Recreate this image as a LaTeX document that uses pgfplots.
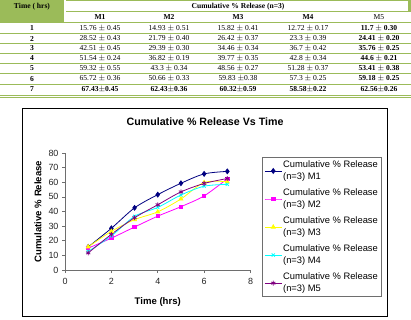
\documentclass[border=0pt]{standalone}
\usepackage{pgfplots}
\pgfplotsset{compat=1.18}
\usepackage{pgfplotstable}
\usepackage{fontspec}
\setmainfont{Liberation Sans}
\newfontfamily\tabfont{Liberation Serif}

\definecolor{tgreen}{RGB}{155,187,89}
\definecolor{axgray}{RGB}{110,110,110}
\definecolor{mone}{RGB}{0,0,128}
\definecolor{mtwo}{RGB}{255,0,255}
\definecolor{mthree}{RGB}{255,255,0}
\definecolor{mfour}{RGB}{0,255,255}
\definecolor{mfive}{RGB}{128,0,128}

% Cumulative % release (n=3) of the five formulations
\pgfplotstableread{
t  M1    M2    M3    M4    M5
1  15.76 14.93 15.82 12.72 11.70
2  28.52 21.79 26.42 23.30 24.41
3  42.51 29.39 34.46 36.70 35.76
4  51.54 36.82 39.77 42.80 44.60
5  59.32 43.30 48.56 51.28 53.41
6  65.72 50.66 59.83 57.30 59.18
7  67.43 62.43 60.32 58.58 62.56
}\release

\begin{document}
\begin{tikzpicture}
% ---------- table ----------
\begin{scope}[x=1bp,y=-1bp]
\useasboundingbox (0,0) rectangle (411,320);
\fill[tgreen] (0,0) rectangle (64,22.5);
\draw[tgreen,line width=1.2bp] (66,0.6) -- (408,0.6);
\draw[tgreen,line width=1.2bp] (66,11.5) -- (408,11.5);
\fill[tgreen] (408,0) rectangle (411,12.1);
\draw[tgreen,line width=1bp] (0,22.5) -- (411,22.5);
\foreach \y in {33,43.5,53.5,63.5,73.5,84} \draw[tgreen,line width=0.8bp] (0,\y) -- (411,\y);
\draw[tgreen,line width=0.8bp] (0,95) -- (411,95);
\draw[tgreen,line width=0.8bp] (0,97) -- (411,97);
\begin{scope}[every node/.style={font=\tabfont\fontsize{7.6}{8}\selectfont, inner sep=0pt}]
\node[font=\tabfont\fontsize{7.6}{8}\selectfont\bfseries] at (32,6.5) {Time ( hrs)};
\node[font=\tabfont\fontsize{7.6}{8}\selectfont\bfseries] at (238,6.5) {Cumulative \% Release (n=3)};
\node[font=\tabfont\fontsize{7.6}{8}\selectfont\bfseries] at (100,17) {M1};
\node[font=\tabfont\fontsize{7.6}{8}\selectfont\bfseries] at (169,17) {M2};
\node[font=\tabfont\fontsize{7.6}{8}\selectfont\bfseries] at (238,17) {M3};
\node[font=\tabfont\fontsize{7.6}{8}\selectfont\bfseries] at (308,17) {M4};
\node at (379,17) {M5};
\foreach \r/\yy/\a/\b/\c/\d/\e in {
  1/28/15.76 $\pm$ 0.45/14.93 $\pm$ 0.51/15.82 $\pm$ 0.41/12.72 $\pm$ 0.17/11.7 $\pm$ 0.30,
  2/38.5/28.52 $\pm$ 0.43/21.79 $\pm$ 0.40/26.42 $\pm$ 0.37/23.3 $\pm$ 0.39/24.41 $\pm$ 0.20,
  3/48.5/42.51 $\pm$ 0.45/29.39 $\pm$ 0.30/34.46 $\pm$ 0.34/36.7 $\pm$ 0.42/35.76 $\pm$ 0.25,
  4/58.5/51.54 $\pm$ 0.24/36.82 $\pm$ 0.19/39.77 $\pm$ 0.35/42.8 $\pm$ 0.34/44.6 $\pm$ 0.21,
  5/68.5/59.32 $\pm$ 0.55/43.3 $\pm$ 0.34/48.56 $\pm$ 0.27/51.28 $\pm$ 0.37/53.41 $\pm$ 0.38,
  6/78.8/65.72 $\pm$ 0.36/50.66 $\pm$ 0.33/59.83 $\pm$0.38/57.3 $\pm$ 0.25/59.18 $\pm$ 0.25}{
  \node[font=\tabfont\fontsize{7.6}{8}\selectfont\bfseries] at (32,\yy) {\r};
  \node at (100,\yy) {\a};
  \node at (169,\yy) {\b};
  \node at (238,\yy) {\c};
  \node at (308,\yy) {\d};
  \node[font=\tabfont\fontsize{7.6}{8}\selectfont\bfseries] at (379,\yy) {\e};
}
\begin{scope}[every node/.style={font=\tabfont\fontsize{7.6}{8}\selectfont\bfseries, inner sep=0pt}]
\node at (32,89.5) {7};
\node at (100,89.5) {67.43$\pm$0.45};
\node at (169,89.5) {62.43$\pm$0.36};
\node at (238,89.5) {60.32$\pm$0.59};
\node at (308,89.5) {58.58$\pm$0.22};
\node at (379,89.5) {62.56$\pm$0.26};
\end{scope}
\end{scope}
% chart frame
\draw[black,line width=1bp] (22.7,108) rectangle (387.5,316.5);
\end{scope}

% ---------- chart ----------
\begin{axis}[
  at={(65bp,-270bp)}, anchor=south west,
  scale only axis, width=185.5bp, height=117bp,
  xmin=0, xmax=8, ymin=0, ymax=80,
  xtick={0,2,...,8}, ytick={0,10,...,80},
  axis x line*=bottom, axis y line*=left,
  axis line style={draw=axgray, line width=0.7bp},
  tick style={draw=axgray, line width=0.7bp},
  tick align=outside, major tick length=3bp,
  tick label style={font=\fontsize{9}{10}\selectfont, text=black!85},
  /pgf/number format/assume math mode=true,
  title={Cumulative \% Release Vs Time},
  title style={at={(axis description cs:0.755,1.215)}, anchor=center,
    font=\fontsize{10.7}{12}\selectfont\bfseries},
  xlabel={Time (hrs)},
  xlabel style={at={(axis description cs:0.5,-0.27)}, anchor=center,
    font=\fontsize{9.6}{11}\selectfont\bfseries},
  ylabel={Cumulative \% Release},
  ylabel style={at={(axis description cs:-0.1456,0.5)}, anchor=center,
    font=\fontsize{9.6}{11}\selectfont\bfseries},
  xticklabel style={yshift=-1.5bp},
  legend cell align=left,
  legend style={at={(axis description cs:1.062,0.966)}, anchor=north west,
    draw=axgray, line width=0.7bp, inner xsep=2bp, inner ysep=2.5bp,
    row sep=5.8bp,
    font=\fontsize{9.4}{12}\selectfont,
    nodes={align=left, inner sep=1bp}},
  every axis plot/.append style={line width=0.8bp, smooth, tension=0.5},
]
\addplot[mone, mark=diamond*, mark size=2.4bp, mark options={fill=mone, solid}]
  table[x=t, y=M1]{\release};
\addlegendentry{Cumulative \% Release\\(n=3) M1}
\addplot[mtwo, mark=square*, mark size=1.7bp, mark options={fill=mtwo, solid}]
  table[x=t, y=M2]{\release};
\addlegendentry{Cumulative \% Release\\(n=3) M2}
\addplot[mthree, mark=triangle*, mark size=2.2bp, mark options={fill=mthree, solid}]
  table[x=t, y=M3]{\release};
\addlegendentry{Cumulative \% Release\\(n=3) M3}
\addplot[mfour, mark=x, mark size=2.2bp, mark options={solid}]
  table[x=t, y=M4]{\release};
\addlegendentry{Cumulative \% Release\\(n=3) M4}
\addplot[mfive, mark=asterisk, mark size=2.4bp, mark options={solid}]
  table[x=t, y=M5]{\release};
\addlegendentry{Cumulative \% Release\\(n=3) M5}
\end{axis}
\end{tikzpicture}
\end{document}
